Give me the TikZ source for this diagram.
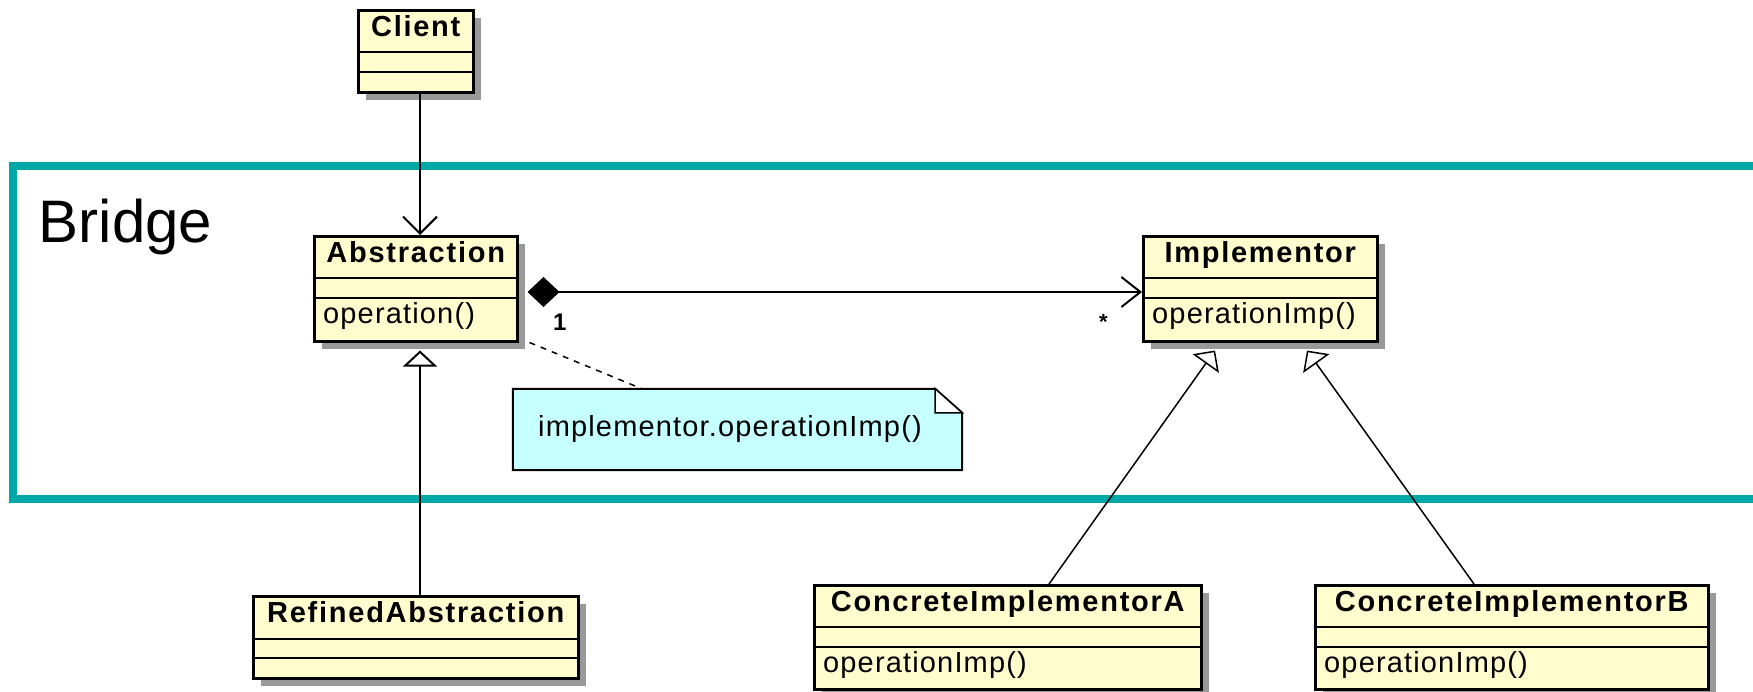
\documentclass[tikz,border=0pt]{standalone}
\usepackage{fontspec}
\setmainfont{Liberation Sans}
\newfontfamily\clsfont{Liberation Sans}[LetterSpace=6]
\newfontfamily\opfont{Liberation Sans}[LetterSpace=4]
\usetikzlibrary{arrows.meta,calc,shadows}
\definecolor{classfill}{RGB}{255,252,206}
\definecolor{notefill}{RGB}{198,255,255}
\definecolor{shadowgray}{RGB}{153,153,153}
\definecolor{teal}{RGB}{0,168,168}
\tikzset{
  classbox/.style={draw=black, line width=2.5pt, fill=classfill, inner sep=0pt,
    drop shadow={shadow xshift=8pt, shadow yshift=-8pt, fill=shadowgray, opacity=1}},
  divider/.style={draw=black, line width=2.5pt},
  titletext/.style={inner sep=0pt, font=\clsfont\bfseries\fontsize{29}{34}\selectfont},
  optext/.style={inner sep=0pt, font=\opfont\fontsize{29}{34}\selectfont},
  conn/.style={draw=black, line width=2pt},
  multlabel/.style={inner sep=0pt, font=\bfseries\fontsize{24}{28}\selectfont},
}
\newcommand{\umlclass}[9]{%
  \node[classbox, anchor=north west, minimum width=#4pt, minimum height=#5pt] (#1) at (#2,#3) {};
  \draw[divider] ($(#1.north west)+(0,#6)$) -- ($(#1.north east)+(0,#6)$);
  \draw[divider] ($(#1.north west)+(0,#7)$) -- ($(#1.north east)+(0,#7)$);
  \node[titletext, anchor=base] (#1-title) at ($(#1.north)+(0,27)$) {#8};
  \node[optext, anchor=base west] (#1-op) at ($(#1.north west)+(10,{#7+25})$) {#9};
}
\begin{document}
\begin{tikzpicture}[x=1pt,y=-1pt]
\useasboundingbox (0,0) rectangle (1753,691);
\fill[white] (0,0) rectangle (1753,691);

% Bridge frame
\draw[teal, line width=8pt, line join=miter] (1753,166) -- (12.5,166) -- (12.5,499) -- (1753,499);
\node[inner sep=0pt, anchor=base west, font=\fontsize{60}{72}\selectfont] (bridge) at (38.6,242) {Bridge};

% classes
\umlclass{cli}{357}{9}{115}{82}{43}{63}{Client}{}
\umlclass{abs}{313}{235}{203}{105}{43}{63}{Abstraction}{operation()}
\umlclass{ref}{252}{595}{325}{82}{44}{63}{RefinedAbstraction}{}
\umlclass{impl}{1142}{235}{234}{105}{43}{63}{Implementor}{operationImp()}
\umlclass{cia}{813}{584}{387}{104}{43}{63}{ConcreteImplementorA}{operationImp()}
\umlclass{cib}{1314}{584}{393}{104}{43}{63}{ConcreteImplementorB}{operationImp()}

% note
\node[minimum width=449pt, minimum height=81pt, inner sep=0pt] (note) at (737.5,429.5) {};
\draw[black, line width=2pt, fill=notefill, line join=miter]
  (note.north west) -- ($(note.north east)+(-27,0)$) -- ($(note.north east)+(0,24)$)
  -- (note.south east) -- (note.south west) -- cycle;
\draw[black, line width=1.5pt, fill=white, line join=miter]
  ($(note.north east)+(-27,0)$) -- ($(note.north east)+(-27,24)$) -- ($(note.north east)+(0,24)$) -- cycle;
\node[optext] (notetext) at (730,429) {implementor.operationImp()};

% connectors
\coordinate (ax) at (420,0);
\draw[conn, -{Straight Barb[length=17pt,width=34pt]}] (cli.south -| ax) -- (abs.north -| ax);
\draw[conn, -{Triangle[length=16pt,width=34pt,fill=white]}] (ref.north -| ax) -- ($(abs.south -| ax)+(0,8)$);
\draw[conn, {Diamond[length=32pt,width=30pt]}-{Straight Barb[length=19pt,width=30pt]}]
  ($(abs.north east)+(9,57)$) -- ($(impl.north west)+(0,57)$);
\node[multlabel, anchor=base west] (m1) at (553,330) {1};
\node[multlabel, font=\bfseries\fontsize{22}{26}\selectfont, anchor=base west] (m2) at (1099,329) {*};
\draw[conn, line width=1.5pt, dash pattern=on 6pt off 6pt] ($(abs.south east)+(11,0)$) -- ($(note.north)+(-95.5,0)$);
\draw[conn, line width=1.5pt, -{Triangle[length=16pt,width=32pt,fill=white]}]
  ($(cia.north west)+(236,0)$) -- ($(impl.south west)+(73,8)$);
\draw[conn, line width=1.5pt, -{Triangle[length=16pt,width=32pt,fill=white]}]
  ($(cib.north west)+(160,0)$) -- ($(impl.south west)+(165,8)$);
\end{tikzpicture}
\end{document}
